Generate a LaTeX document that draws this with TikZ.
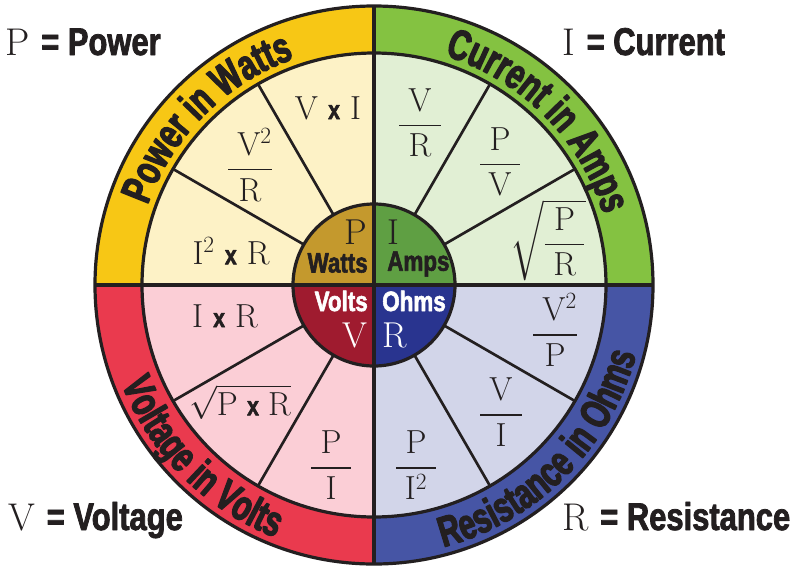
\RequirePackage{fix-cm}
\documentclass[tikz,border=0pt]{standalone}
\usepackage{amsmath}
\usepackage{fontspec}
\setsansfont{Liberation Sans}[FakeStretch=0.8, BoldFeatures={FakeBold=2}]
\newfontfamily\bandfamily{Liberation Sans}[FakeStretch=0.7, BoldFeatures={FakeBold=3}]
\usetikzlibrary{decorations.text}

\definecolor{ink}{HTML}{231F20}
\definecolor{pwrband}{HTML}{F7C715}
\definecolor{pwrfill}{HTML}{FDF2C6}
\definecolor{pwrcore}{HTML}{C4992D}
\definecolor{curband}{HTML}{84C241}
\definecolor{curfill}{HTML}{E1EFD4}
\definecolor{curcore}{HTML}{5F9F43}
\definecolor{resband}{HTML}{4655A5}
\definecolor{resfill}{HTML}{D2D5E9}
\definecolor{rescore}{HTML}{29348F}
\definecolor{volband}{HTML}{EA3A4E}
\definecolor{volfill}{HTML}{FBCED6}
\definecolor{volcore}{HTML}{9F1B2F}

\newcommand{\bandfont}{\fontsize{32}{36}\selectfont\bandfamily\bfseries}
\newcommand{\tms}{\text{\sffamily\bfseries\fontsize{20}{24}\selectfont x}}

\begin{document}
\begin{tikzpicture}[x=0.75pt, y=0.75pt, line join=round,
  ring/.style={draw=ink, line width=2.4pt},
  spoke/.style={draw=ink, line width=2pt},
  key/.style={font=\fontsize{29}{32}\selectfont, text=ink, inner sep=0pt, anchor=base west},
  formula/.style={font=\fontsize{25}{30}\selectfont, text=ink, inner sep=0pt},
  core/.style={font=\fontsize{27}{30}\selectfont, inner sep=0pt},
  unit/.style={font=\fontsize{21}{24}\selectfont\sffamily\bfseries, inner sep=0pt},
  bandtext/.style={decorate, decoration={text along path, text align=center,
                   text color=ink, text={|\bandfont|#1}}},
]
\useasboundingbox (-374,-284) rectangle (421,285);

% coloured quadrants: band, light sector, core
\fill[pwrband] (0,0) -- (180:279) arc (180:90:279) -- cycle;
\fill[curband] (0,0) -- (90:279) arc (90:0:279) -- cycle;
\fill[resband] (0,0) -- (0:279) arc (0:-90:279) -- cycle;
\fill[volband] (0,0) -- (270:279) arc (270:180:279) -- cycle;
\fill[pwrfill] (0,0) -- (180:232) arc (180:90:232) -- cycle;
\fill[curfill] (0,0) -- (90:232) arc (90:0:232) -- cycle;
\fill[resfill] (0,0) -- (0:232) arc (0:-90:232) -- cycle;
\fill[volfill] (0,0) -- (270:232) arc (270:180:232) -- cycle;
\fill[pwrcore] (0,0) -- (180:81) arc (180:90:81) -- cycle;
\fill[curcore] (0,0) -- (90:81) arc (90:0:81) -- cycle;
\fill[rescore] (0,0) -- (0:81) arc (0:-90:81) -- cycle;
\fill[volcore] (0,0) -- (270:81) arc (270:180:81) -- cycle;

% spokes
\draw[spoke] (120:81) -- (120:232) (150:81) -- (150:232);
\draw[spoke] (60:81) -- (60:232) (30:81) -- (30:232);
\draw[spoke] (330:81) -- (330:232) (300:81) -- (300:232);
\draw[spoke] (240:81) -- (240:232) (210:81) -- (210:232);

% rings and cross
\draw[ring] (0,0) circle (279);
\draw[ring] (0,0) circle (232);
\draw[ring] (0,0) circle (81);
\draw[ring] (0,279) -- (0,-279);
\draw[ring] (-279,0) -- (279,0);

% band labels
\path[bandtext={Power in Watts}] (180:240) arc (180:90:240);
\path[bandtext={Current in Amps}] (90:240) arc (90:0:240);
\path[bandtext={Voltage in Volts}] (180:271) arc (180:270:271);
\path[bandtext={Resistance in Ohms}] (270:271) arc (270:360:271);

% core
\node[core, text=ink, anchor=east] (pcore) at (-7,53) {P};
\node[unit, text=ink, anchor=east] (watts) at (-6,22) {Watts};
\node[core, text=ink, anchor=west] (icore) at (13,53) {I};
\node[unit, text=ink, anchor=west] (amps) at (13,21) {Amps};
\node[unit, text=white, anchor=east] (volts) at (-6,-16) {Volts};
\node[core, text=white, anchor=east] (vcore) at (-6,-50) {V};
\node[unit, text=white, anchor=west] (ohms) at (8,-16) {Ohms};
\node[core, text=white, anchor=west] (rcore) at (8,-50) {R};

% power formulas
\node[formula] (pvi) at (-46,177) {V \tms{} I};
\node[formula] (pvr) at (-124,120) {$\dfrac{\;\mathrm{V}^2}{\mathrm{R}}$};
\node[formula] (pir) at (-143,34) {$\mathrm{I}^2$ \tms{} R};

% current formulas
\node[formula] (ivr) at (46,162) {$\dfrac{\;\mathrm{V}\;}{\mathrm{R}}$};
\node[formula] (ipv) at (126,123) {$\dfrac{\;\mathrm{P}\;}{\mathrm{V}}$};
\node[formula] (ipr) at (174,45) {$\sqrt{\dfrac{\;\mathrm{P}\;}{\mathrm{R}}}$};

% voltage formulas
\node[formula] (vir) at (-149,-31) {I \tms{} R};
\node[formula] (vpr) at (-134,-117) {$\sqrt{\mathrm{P}\;\tms\;\mathrm{R}}$};
\node[formula] (vpi) at (-43,-180) {$\dfrac{\;\mathrm{P}\;}{\mathrm{I}}$};

% resistance formulas
\node[formula] (rvp) at (181,-45) {$\dfrac{\;\mathrm{V}^2}{\mathrm{P}}$};
\node[formula] (rvi) at (127,-127) {$\dfrac{\;\mathrm{V}\;}{\mathrm{I}}$};
\node[formula] (rpi) at (42,-180) {$\dfrac{\;\mathrm{P}\;}{\mathrm{I}^2}$};

% legend
\node[key] (pkey) at (-369,230) {P {\sffamily\bfseries = Power}};
\node[key] (ikey) at (188,230) {I {\sffamily\bfseries = Current}};
\node[key] (vkey) at (-366,-245) {V {\sffamily\bfseries = Voltage}};
\node[key] (rkey) at (188,-245) {R {\sffamily\bfseries = Resistance}};
\end{tikzpicture}
\end{document}
